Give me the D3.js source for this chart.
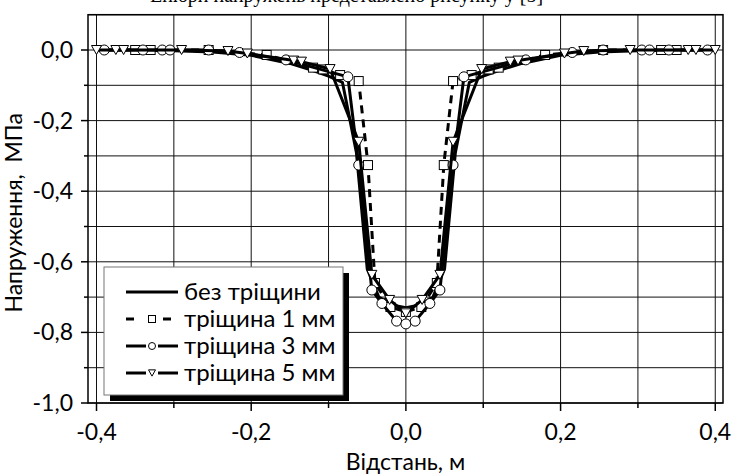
<!DOCTYPE html>
<html>
<head>
<meta charset="utf-8">
<script src="https://cdn.jsdelivr.net/npm/d3@7"></script>
<style>
  body { margin: 0; background: #fff; }
  svg { display: block; }
  text { font-family: Lato, "Open Sans", sans-serif; fill: #000; }
</style>
</head>
<body>
<div id="chart"></div>
<script>
// values (distance, m / stress, MPa)
const noCrackX = [-0.40, -0.35, -0.30, -0.25, -0.20, -0.15, -0.12, -0.10, -0.082, -0.064, -0.05, -0.035, -0.018, 0];
const noCrackY = [0, 0, -0.002, -0.006, -0.015, -0.038, -0.058, -0.074, -0.092, -0.29, -0.62, -0.70, -0.722, -0.73];

const crack1X = [-0.35, -0.33, -0.255, -0.18, -0.12, -0.107, -0.085, -0.061, -0.049, -0.04, -0.02, 0];
const crack1Y = [0, 0, 0, -0.014, -0.05, -0.055, -0.071, -0.088, -0.326, -0.66, -0.728, -0.742];

const crack3X = [-0.39, -0.34, -0.315, -0.305, -0.255, -0.215, -0.155, -0.075, -0.061, -0.044, -0.031, -0.012, 0];
const crack3Y = [0, 0, 0, 0, 0, -0.007, -0.028, -0.076, -0.326, -0.68, -0.718, -0.768, -0.776];

const crack5X = [-0.40, -0.375, -0.365, -0.29, -0.23, -0.205, -0.145, -0.135, -0.098, -0.061, -0.044, -0.021, 0];
const crack5Y = [0, 0, 0, 0, -0.003, -0.01, -0.03, -0.033, -0.054, -0.26, -0.637, -0.708, -0.746];

const seriesNames = ['без тріщини', 'тріщина 1 мм', 'тріщина 3 мм', 'тріщина 5 мм'];
const xTicks = [-0.4, -0.3, -0.2, -0.1, 0, 0.1, 0.2, 0.3, 0.4];
const yTicks = [0.1, 0, -0.1, -0.2, -0.3, -0.4, -0.5, -0.6, -0.7, -0.8, -0.9, -1.0];
const xLabels = [-0.4, -0.2, 0, 0.2, 0.4];
const yLabels = [0, -0.2, -0.4, -0.6, -0.8, -1.0];

// mirror the left half to get the full symmetric profile
function mirror(xs, ys) {
  const pts = xs.map((x, i) => [x, ys[i]]);
  const right = pts.filter(p => p[0] < 0).map(p => [-p[0], p[1]]).reverse();
  return pts.concat(right);
}

const series = [
  { name: seriesNames[0], pts: mirror(noCrackX, noCrackY), dash: null, marker: null },
  { name: seriesNames[1], pts: mirror(crack1X, crack1Y), dash: '8,6', marker: 'square' },
  { name: seriesNames[2], pts: mirror(crack3X, crack3Y), dash: null, marker: 'circle' },
  { name: seriesNames[3], pts: mirror(crack5X, crack5Y), dash: null, marker: 'triangle' }
];

const width = 734, height = 475;
const m = { left: 88, right: 723, top: 14.7, bottom: 403 };

const x = d3.scaleLinear().domain([-0.411, 0.41]).range([m.left, m.right]);
const y = d3.scaleLinear().domain([-1.0, 0.1]).range([m.bottom, m.top]);

const fmt = v => d3.format('.1f')(v).replace('.', ',').replace('−', '-');

const svg = d3.select('#chart').append('svg')
  .attr('width', width)
  .attr('height', height);

// caption of the page above the chart, cut by the picture's top edge
svg.append('text')
  .attr('x', 150).attr('y', 2)
  .style('font-family', '"Liberation Serif", serif')
  .style('font-size', '20px')
  .text('Епюри напружень представлено рисунку у [5]');

// grid
svg.append('g').selectAll('line').data(xTicks).enter().append('line')
  .attr('x1', d => x(d)).attr('x2', d => x(d))
  .attr('y1', m.top).attr('y2', m.bottom)
  .attr('stroke', '#111').attr('stroke-width', 1);
svg.append('g').selectAll('line').data(yTicks).enter().append('line')
  .attr('x1', m.left).attr('x2', m.right)
  .attr('y1', d => y(d)).attr('y2', d => y(d))
  .attr('stroke', '#111').attr('stroke-width', 1);

// frame
svg.append('rect')
  .attr('x', m.left).attr('y', m.top)
  .attr('width', m.right - m.left).attr('height', m.bottom - m.top)
  .attr('fill', 'none').attr('stroke', '#000').attr('stroke-width', 1.5);

// ticks
const xAxis = svg.append('g').attr('transform', `translate(0,${m.bottom})`);
xAxis.selectAll('line').data(xTicks).enter().append('line')
  .attr('x1', d => x(d)).attr('x2', d => x(d))
  .attr('y1', 0).attr('y2', d => xLabels.some(v => Math.abs(v - d) < 1e-9) ? 8 : 5)
  .attr('stroke', '#000').attr('stroke-width', 1.5);
xAxis.selectAll('text').data(xLabels).enter().append('text')
  .attr('x', d => x(d)).attr('y', 37)
  .attr('text-anchor', 'middle')
  .style('font-size', '23px')
  .text(fmt);

const yAxis = svg.append('g').attr('transform', `translate(${m.left},0)`);
yAxis.selectAll('line').data(yTicks.filter(d => d > -1.05 && d < 0.05)).enter().append('line')
  .attr('y1', d => y(d)).attr('y2', d => y(d))
  .attr('x1', d => yLabels.some(v => Math.abs(v - d) < 1e-9) ? -7 : -4).attr('x2', 0)
  .attr('stroke', '#000').attr('stroke-width', 1.5);
yAxis.selectAll('text').data(yLabels).enter().append('text')
  .attr('x', -15).attr('y', d => y(d) + 8)
  .attr('text-anchor', 'end')
  .style('font-size', '23px')
  .text(fmt);

// axis titles
svg.append('text')
  .attr('x', (m.left + m.right) / 2).attr('y', 470)
  .attr('text-anchor', 'middle')
  .style('font-size', '23px')
  .text('Відстань, м');
svg.append('text')
  .attr('transform', `translate(22,${(m.top + m.bottom) / 2 + 4}) rotate(-90)`)
  .attr('text-anchor', 'middle')
  .style('font-size', '23px')
  .style('white-space', 'pre')
  .text('Напруження,  МПа');

// markers
function drawMarker(g, type, cx, cy, s) {
  if (type === 'square') {
    g.append('rect').attr('x', cx - s / 2).attr('y', cy - s / 2)
      .attr('width', s).attr('height', s)
      .attr('fill', '#fff').attr('stroke', '#000').attr('stroke-width', 1);
  } else if (type === 'circle') {
    g.append('circle').attr('cx', cx).attr('cy', cy).attr('r', s / 2)
      .attr('fill', '#fff').attr('stroke', '#000').attr('stroke-width', 1);
  } else if (type === 'triangle') {
    const h = s * 0.9;
    g.append('path')
      .attr('d', `M${cx - s / 2},${cy - h / 2}L${cx + s / 2},${cy - h / 2}L${cx},${cy + h / 2}Z`)
      .attr('fill', '#fff').attr('stroke', '#000').attr('stroke-width', 1);
  }
}

const line = d3.line().x(d => x(d[0])).y(d => y(d[1]));

series.forEach(s => {
  const g = svg.append('g');
  g.append('path')
    .datum(s.pts)
    .attr('d', line)
    .attr('fill', 'none')
    .attr('stroke', '#000')
    .attr('stroke-width', 3)
    .attr('stroke-linejoin', 'round')
    .attr('stroke-dasharray', s.dash);
  if (s.marker) {
    s.pts.forEach(p => drawMarker(g, s.marker, x(p[0]), y(p[1]), s.marker === 'square' ? 9 : 10));
  }
});

// legend
const lg = svg.append('g').attr('transform', 'translate(104,267)');
lg.append('rect').attr('x', 6).attr('y', 6).attr('width', 239).attr('height', 128).attr('fill', '#000');
lg.append('rect').attr('x', 0).attr('y', 0).attr('width', 239).attr('height', 128)
  .attr('fill', '#fff').attr('stroke', '#777').attr('stroke-width', 1);

series.forEach((s, i) => {
  const cy = 25 + i * 27;
  const row = lg.append('g');
  if (!s.marker) {
    row.append('line').attr('x1', 22).attr('x2', 74).attr('y1', cy).attr('y2', cy)
      .attr('stroke', '#000').attr('stroke-width', 3);
  } else if (s.dash) {
    [[22, 30], [59, 67]].forEach(seg => row.append('line')
      .attr('x1', seg[0]).attr('x2', seg[1]).attr('y1', cy).attr('y2', cy)
      .attr('stroke', '#000').attr('stroke-width', 3));
  } else {
    [[22, 42], [54, 74]].forEach(seg => row.append('line')
      .attr('x1', seg[0]).attr('x2', seg[1]).attr('y1', cy).attr('y2', cy)
      .attr('stroke', '#000').attr('stroke-width', 3));
  }
  if (s.marker) drawMarker(row, s.marker, 48, cy, 7);
  row.append('text').attr('x', 80).attr('y', cy + 8)
    .style('font-size', '24px')
    .text(s.name);
});
</script>
</body>
</html>
